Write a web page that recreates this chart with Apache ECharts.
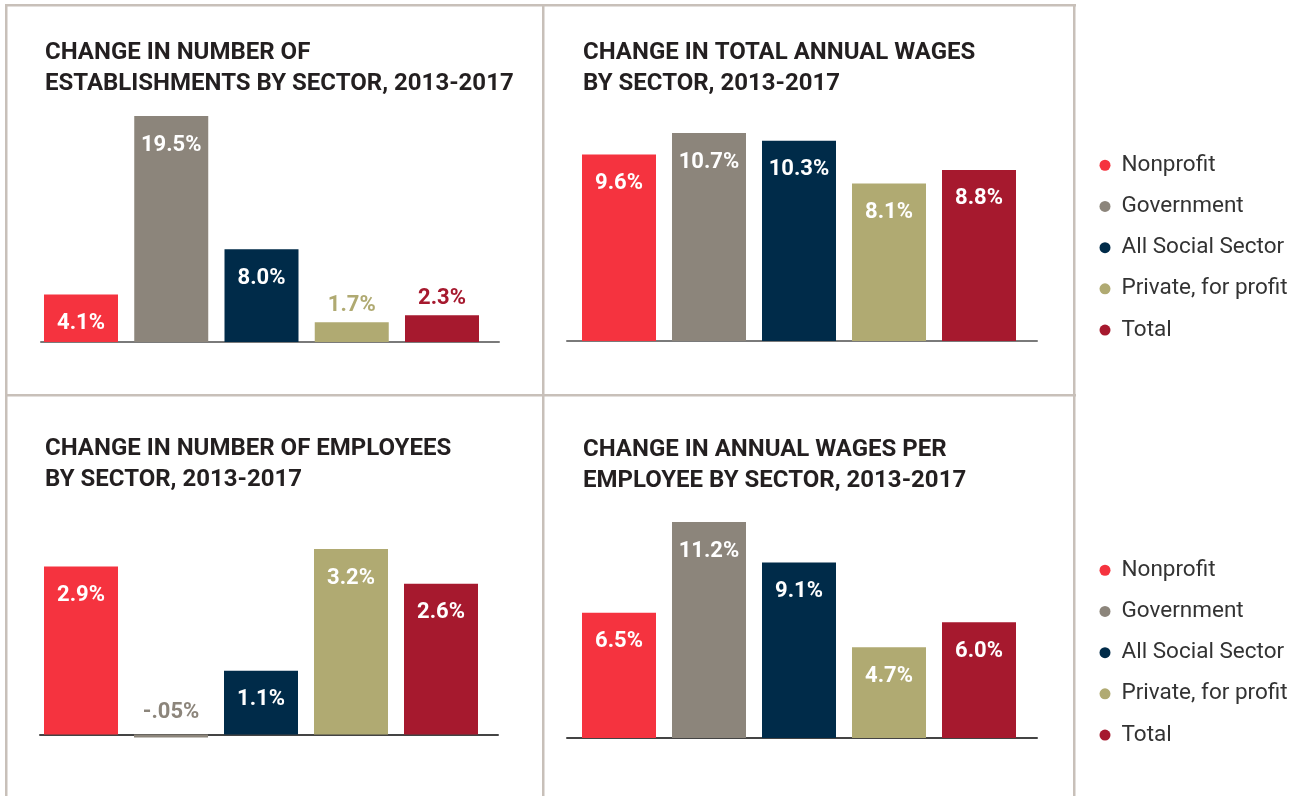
<!DOCTYPE html>
<html>
<head>
<meta charset="utf-8">
<script src="https://cdn.jsdelivr.net/npm/echarts@6/dist/echarts.min.js"></script>
<style>
  html, body { margin: 0; padding: 0; background: #ffffff; }
  #chart { width: 1308px; height: 796px; }
</style>
</head>
<body>
<div id="chart"></div>
<script>
// Sectors and their colours (shared by all four panels and the legends)
const categories = ['Nonprofit', 'Government', 'All Social Sector', 'Private, for profit', 'Total'];
const sectorColors = ['#f5333f', '#8c857b', '#002b49', '#b0aa72', '#a6192e'];

// Percent change 2013-2017, one array per panel, in category order
const establishments = [4.1, 19.5, 8.0, 1.7, 2.3];
const totalWages = [9.6, 10.7, 10.3, 8.1, 8.8];
const employees = [2.9, -0.05, 1.1, 3.2, 2.6];
const wagesPerEmployee = [6.5, 11.2, 9.1, 4.7, 6.0];

const panelTitles = [
  'CHANGE IN NUMBER OF\nESTABLISHMENTS BY SECTOR, 2013-2017',
  'CHANGE IN TOTAL ANNUAL WAGES\nBY SECTOR, 2013-2017',
  'CHANGE IN NUMBER OF EMPLOYEES\nBY SECTOR, 2013-2017',
  'CHANGE IN ANNUAL WAGES PER\nEMPLOYEE BY SECTOR, 2013-2017'
];

// Layout of each panel: grid box, axis extents, baseline colour, title anchor
const panels = [
  { values: establishments, grid: { left: 41, top: 116, width: 458, height: 226 },
    xRange: [-0.4432, 4.6316], yRange: [0, 19.5], axisColor: '#7a7a7a', title: { left: 45, top: 37.5 } },
  { values: totalWages, grid: { left: 567, top: 133, width: 470, height: 208 },
    xRange: [-0.5778, 4.6444], yRange: [0, 10.7], axisColor: '#7a7a7a', title: { left: 583, top: 37.5 } },
  { values: employees, grid: { left: 40, top: 549, width: 458, height: 214.5 },
    xRange: [-0.4556, 4.6333], yRange: [-0.5, 3.2], axisColor: '#444444', title: { left: 45, top: 433 } },
  { values: wagesPerEmployee, grid: { left: 567, top: 522, width: 470, height: 216 },
    xRange: [-0.5778, 4.6444], yRange: [0, 11.2], axisColor: '#444444', title: { left: 583, top: 434.5 } }
];

// "-0.05" -> "-.05%", "19.5" -> "19.5%"
function fmtPct(v) {
  const s = Math.abs(v) < 0.1 ? v.toFixed(2) : v.toFixed(1);
  return s.replace(/^(-?)0\./, '$1.') + '%';
}

const FONT = 'Roboto, "Liberation Sans", sans-serif';

const grids = [], xAxes = [], yAxes = [], titles = [], series = [];

panels.forEach((p, pi) => {
  grids.push(Object.assign({ containLabel: false }, p.grid));
  xAxes.push({
    type: 'value', gridIndex: pi, min: p.xRange[0], max: p.xRange[1],
    axisLine: { show: true, onZero: true, lineStyle: { color: p.axisColor, width: 2 } },
    axisTick: { show: false }, axisLabel: { show: false }, splitLine: { show: false }
  });
  yAxes.push({
    type: 'value', gridIndex: pi, min: p.yRange[0], max: p.yRange[1], show: false,
    splitLine: { show: false }
  });
  titles.push({
    text: panelTitles[pi], left: p.title.left, top: p.title.top, padding: 0,
    textStyle: { fontFamily: FONT, fontWeight: 'bold', fontSize: 24, lineHeight: 31, color: '#231f20' }
  });
  const maxV = Math.max.apply(null, p.values);
  p.values.forEach((v, i) => {
    // short bars carry their label outside, in the bar colour
    const outside = v / maxV < 0.15;
    series.push({
      type: 'bar', name: categories[i], xAxisIndex: pi, yAxisIndex: pi,
      data: [[i, v]], barWidth: 74, barGap: '-100%', z: 1,
      itemStyle: { color: sectorColors[i] },
      label: {
        show: true,
        position: outside ? 'top' : 'insideTop',
        distance: outside ? (v < 0 ? 11 : 5.5) : 18,
        formatter: (prm) => fmtPct(prm.value[1]),
        fontFamily: FONT, fontWeight: 'bold', fontSize: 22,
        color: outside ? sectorColors[i] : '#ffffff'
      }
    });
  });
});

function legendAt(top) {
  return {
    orient: 'vertical', left: 1099.5, top: top, padding: 0,
    itemWidth: 23, itemHeight: 11, itemGap: 18.2, icon: 'circle',
    selectedMode: false, data: categories,
    textStyle: { fontFamily: FONT, fontSize: 22.5, color: '#333333' }
  };
}

// panel frame lines
const frameColor = '#c8c0b9';
const frame = [
  { x: 5, y: 4, width: 1071, height: 2.5 },
  { x: 5, y: 394, width: 1071, height: 2.5 },
  { x: 5, y: 4, width: 2.5, height: 800 },
  { x: 542, y: 4, width: 2.5, height: 800 },
  { x: 1073, y: 4, width: 2.5, height: 800 }
].map(r => ({ type: 'rect', shape: r, style: { fill: frameColor }, silent: true, z: 0 }));

const chart = echarts.init(document.getElementById('chart'), null, { renderer: 'canvas' });
chart.setOption({
  animation: false,
  backgroundColor: '#ffffff',
  title: titles,
  legend: [legendAt(153.75), legendAt(558.75)],
  grid: grids,
  xAxis: xAxes,
  yAxis: yAxes,
  graphic: frame,
  series: series
});
</script>
</body>
</html>
